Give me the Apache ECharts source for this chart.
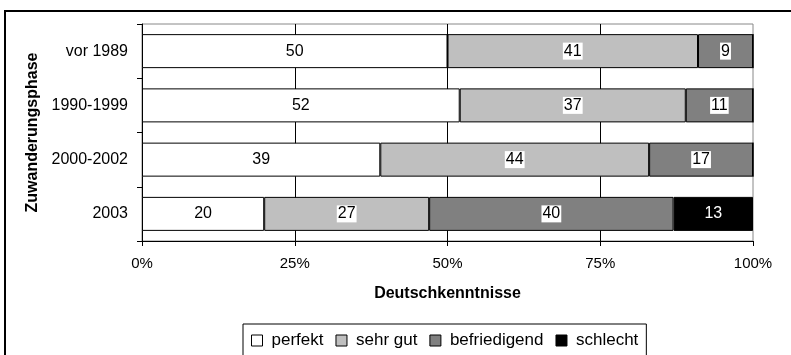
<!DOCTYPE html>
<html>
<head>
<meta charset="utf-8">
<script src="https://cdn.jsdelivr.net/npm/echarts@6/dist/echarts.min.js"></script>
<style>
  html, body { margin: 0; padding: 0; background: #fff; }
  #chart { width: 791px; height: 355px; }
</style>
</head>
<body>
<div id="chart"></div>
<script>
// Zuwanderungsphase categories (top to bottom)
const phases = ['vor 1989', '1990-1999', '2000-2002', '2003'];

// Deutschkenntnisse shares in percent
const perfekt      = [50, 52, 39, 20];
const sehrGut      = [41, 37, 44, 27];
const befriedigend = [9, 11, 17, 40];
const schlecht     = [0, 0, 0, 13];

const xTicks = [0, 25, 50, 75, 100];

const FONT = 'Liberation Sans, Arial, sans-serif';

function makeSeries(name, values, fill, labelColor, labelBg) {
  return {
    name: name,
    type: 'bar',
    stack: 'total',
    barWidth: 34,
    itemStyle: { color: fill, borderColor: '#000', borderWidth: 1 },
    label: {
      show: true,
      position: 'inside',
      color: labelColor,
      fontFamily: FONT,
      fontSize: 16,
      backgroundColor: labelBg,
      padding: [1, 1, 0, 1]
    },
    emphasis: { disabled: true },
    data: values.map(v => v === 0 ? { value: v, label: { show: false } } : v)
  };
}

const chart = echarts.init(document.getElementById('chart'), null, { renderer: 'canvas' });

chart.setOption({
  animation: false,
  backgroundColor: '#fff',
  textStyle: { fontFamily: FONT },
  grid: {
    left: 142, right: 38, top: 24, bottom: 114,
    show: true, borderColor: '#888', borderWidth: 1, backgroundColor: '#fff'
  },
  graphic: [{
    type: 'rect',
    shape: { x: 5, y: 11, width: 820, height: 400 },
    style: { fill: 'none', stroke: '#000', lineWidth: 2 },
    z: 100
  }],
  xAxis: {
    type: 'value',
    min: xTicks[0], max: xTicks[xTicks.length - 1], interval: 25,
    name: 'Deutschkenntnisse',
    nameLocation: 'middle',
    nameGap: 45,
    nameTextStyle: { fontFamily: FONT, fontSize: 16, fontWeight: 'bold', color: '#000' },
    axisLine: { show: true, lineStyle: { color: '#000', width: 1 } },
    axisTick: { show: true, length: 5, lineStyle: { color: '#000' } },
    axisLabel: { formatter: '{value}%', color: '#000', fontFamily: FONT, fontSize: 15, margin: 15 },
    splitLine: { show: true, lineStyle: { color: ['transparent', '#000', '#000', '#000', 'transparent'], width: 1 } }
  },
  yAxis: {
    type: 'category',
    data: phases,
    inverse: true,
    name: 'Zuwanderungsphase',
    nameLocation: 'middle',
    nameGap: 100,
    nameRotate: 90,
    nameTextStyle: { fontFamily: FONT, fontSize: 16, fontWeight: 'bold', color: '#000' },
    axisLine: { show: true, lineStyle: { color: '#000', width: 1 } },
    axisTick: { show: true, length: 5, lineStyle: { color: '#000' } },
    axisLabel: { color: '#000', fontFamily: FONT, fontSize: 16, margin: 14 }
  },
  legend: {
    bottom: -8,
    left: 243,
    orient: 'horizontal',
    borderColor: '#000',
    borderWidth: 1,
    padding: [8, 8, 14, 8],
    itemGap: 12,
    itemWidth: 11,
    itemHeight: 11,
    icon: 'rect',
    itemStyle: { borderColor: '#000', borderWidth: 1 },
    textStyle: { color: '#000', fontFamily: FONT, fontSize: 17, padding: [0, 0, 0, 4] },
    data: ['perfekt', 'sehr gut', 'befriedigend', 'schlecht']
  },
  series: [
    makeSeries('perfekt', perfekt, '#ffffff', '#000', '#fff'),
    makeSeries('sehr gut', sehrGut, '#bfbfbf', '#000', '#fff'),
    makeSeries('befriedigend', befriedigend, '#808080', '#000', '#fff'),
    makeSeries('schlecht', schlecht, '#000000', '#fff', 'transparent')
  ]
});
</script>
</body>
</html>
